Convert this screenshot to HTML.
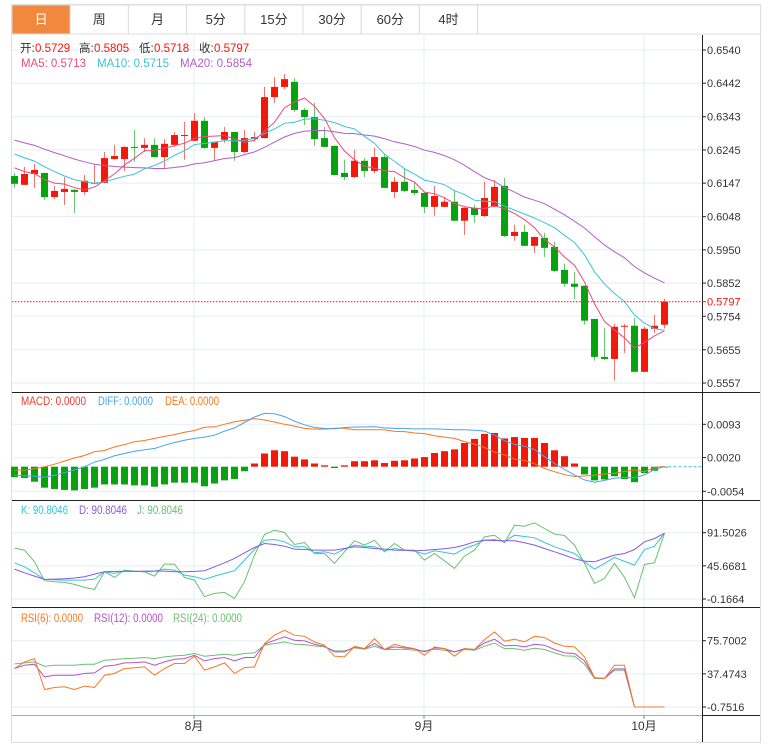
<!DOCTYPE html>
<html><head><meta charset="utf-8"><style>
html,body{margin:0;padding:0;background:#fff;width:771px;height:751px;overflow:hidden}
svg{display:block}
text{font-family:"Liberation Sans","Noto Sans CJK SC",sans-serif}
</style></head><body>
<svg id="chart" width="771" height="751" viewBox="0 0 771 751" xmlns="http://www.w3.org/2000/svg">
<rect x="11.5" y="4.5" width="749" height="738" fill="#fff" stroke="#dcdcdc"/>
<g id="tabs"></g>
<g id="grid"></g>
<g id="marks"></g>
<g id="axes"></g>
<g id="legend"></g>
</svg>
<script>
const openP=[0.6168,0.6142,0.6174,0.6177,0.6106,0.6121,0.6127,0.6121,0.6145,0.6148,0.6218,0.6218,0.6254,0.6251,0.6260,0.6224,0.6260,0.6286,0.6272,0.6331,0.6251,0.6275,0.6298,0.6239,0.6277,0.6280,0.6401,0.6431,0.6446,0.6363,0.6342,0.6280,0.6257,0.6177,0.6165,0.6213,0.6183,0.6224,0.6121,0.6151,0.6127,0.6118,0.6077,0.6077,0.6092,0.6036,0.6074,0.6050,0.6077,0.6139,0.5991,0.6003,0.5962,0.5985,0.5959,0.5891,0.5850,0.5844,0.5746,0.5634,0.5628,0.5723,0.5726,0.5590,0.5717,0.5729];
const closeP=[0.6145,0.6174,0.6186,0.6106,0.6124,0.6130,0.6121,0.6154,0.6148,0.6221,0.6227,0.6254,0.6251,0.6260,0.6224,0.6263,0.6289,0.6289,0.6331,0.6251,0.6269,0.6298,0.6239,0.6280,0.6283,0.6401,0.6431,0.6454,0.6363,0.6342,0.6277,0.6254,0.6171,0.6165,0.6213,0.6183,0.6224,0.6133,0.6151,0.6124,0.6118,0.6077,0.6109,0.6092,0.6036,0.6074,0.6053,0.6103,0.6136,0.5991,0.6003,0.5962,0.5988,0.5956,0.5888,0.5850,0.5841,0.5741,0.5634,0.5628,0.5723,0.5726,0.5590,0.5717,0.5726,0.5797];
const highP=[0.6177,0.6195,0.6204,0.6178,0.6139,0.6165,0.6130,0.6171,0.6201,0.6239,0.6260,0.6255,0.6304,0.6280,0.6280,0.6277,0.6298,0.6328,0.6354,0.6342,0.6270,0.6313,0.6299,0.6304,0.6298,0.6431,0.6460,0.6469,0.6457,0.6369,0.6384,0.6313,0.6258,0.6216,0.6245,0.6221,0.6251,0.6233,0.6165,0.6192,0.6151,0.6119,0.6139,0.6103,0.6127,0.6075,0.6083,0.6151,0.6156,0.6162,0.6024,0.6024,0.5989,0.6000,0.5974,0.5909,0.5885,0.5845,0.5747,0.5720,0.5732,0.5732,0.5749,0.5723,0.5758,0.5805];
const lowP=[0.6133,0.6141,0.6133,0.6097,0.6100,0.6083,0.6059,0.6112,0.6144,0.6147,0.6217,0.6183,0.6210,0.6239,0.6223,0.6192,0.6254,0.6216,0.6271,0.6248,0.6216,0.6266,0.6213,0.6236,0.6269,0.6279,0.6384,0.6425,0.6357,0.6319,0.6257,0.6253,0.6170,0.6156,0.6162,0.6164,0.6177,0.6132,0.6103,0.6120,0.6112,0.6059,0.6050,0.6076,0.6035,0.5994,0.6030,0.6047,0.6076,0.5988,0.5977,0.5961,0.5941,0.5929,0.5885,0.5841,0.5805,0.5729,0.5623,0.5625,0.5564,0.5646,0.5589,0.5589,0.5705,0.5718];
const priorCloses=[0.6340,0.6335,0.6330,0.6325,0.6320,0.6315,0.6310,0.6300,0.6290,0.6285,0.6290,0.6280,0.6275,0.6265,0.6260,0.6230,0.6215,0.6195,0.6176];
const diffVals=[-0.0019,-0.0020,-0.0021,-0.0023,-0.0019,-0.0013,-0.0007,0.0000,0.0010,0.0016,0.0024,0.0029,0.0034,0.0037,0.0040,0.0047,0.0053,0.0058,0.0062,0.0065,0.0069,0.0078,0.0085,0.0097,0.0109,0.0117,0.0116,0.0110,0.0100,0.0092,0.0086,0.0084,0.0083,0.0086,0.0087,0.0087,0.0088,0.0085,0.0084,0.0084,0.0083,0.0083,0.0083,0.0082,0.0081,0.0081,0.0080,0.0078,0.0069,0.0057,0.0049,0.0045,0.0038,0.0022,0.0007,-0.0006,-0.0018,-0.0029,-0.0034,-0.0030,-0.0025,-0.0024,-0.0024,-0.0018,-0.0006,0.0000];
const macdBars=[-0.0023,-0.0025,-0.0033,-0.0046,-0.0049,-0.0051,-0.0052,-0.0049,-0.0046,-0.0039,-0.0039,-0.0039,-0.0041,-0.0041,-0.0044,-0.0039,-0.0035,-0.0035,-0.0035,-0.0043,-0.0037,-0.0030,-0.0027,-0.0010,0.0007,0.0029,0.0036,0.0034,0.0022,0.0016,0.0007,0.0003,-0.0003,0.0003,0.0012,0.0012,0.0014,0.0008,0.0013,0.0014,0.0018,0.0021,0.0030,0.0034,0.0038,0.0052,0.0061,0.0072,0.0074,0.0062,0.0065,0.0063,0.0063,0.0052,0.0036,0.0023,0.0007,-0.0017,-0.0030,-0.0028,-0.0021,-0.0027,-0.0034,-0.0014,-0.0009,-0.0001];
const kVals=[49.9,44.4,36.1,26.9,26.5,26.0,26.0,26.0,27.4,37.5,35.2,38.9,38.0,37.5,38.4,41.2,39.8,32.9,30.6,26.9,31.5,35.2,38.9,53.6,68.3,81.2,82.1,78.9,72.0,72.0,63.7,65.1,61.9,68.8,74.3,72.9,72.0,66.5,69.7,67.4,66.0,61.9,66.5,64.2,61.9,69.7,74.3,81.2,82.1,78.9,88.1,86.3,84.4,78.0,72.0,67.4,62.8,51.3,41.2,49.0,57.3,51.8,46.7,68.3,72.9,90.8];
const dVals=[41.2,36.1,31.5,26.9,27.4,27.8,28.8,30.6,34.3,37.5,38.0,38.0,38.0,38.4,38.4,38.4,37.5,37.5,38.0,38.9,44.4,49.9,55.9,63.7,71.1,76.6,75.2,72.9,68.8,68.3,67.4,67.4,67.4,69.7,72.0,71.1,69.7,68.8,67.4,67.0,66.5,67.0,68.3,69.2,71.1,74.3,78.9,81.2,80.7,80.3,80.3,77.5,74.3,69.7,65.1,60.5,55.4,52.2,51.3,55.9,60.5,62.8,68.3,78.9,83.5,90.8];
const jVals=[70.2,67.4,51.3,25.1,23.7,22.8,20.0,15.9,13.1,37.5,29.7,39.8,38.4,37.5,31.5,48.1,48.1,29.7,26.0,3.0,7.6,9.0,0.7,23.7,60.5,89.0,95.0,91.8,75.2,78.0,62.8,62.8,49.0,65.1,80.3,74.3,81.2,65.1,76.6,67.4,67.4,53.6,62.8,52.7,42.1,59.1,67.4,85.8,88.1,77.5,101.9,100.5,105.1,97.3,89.5,87.6,74.3,49.0,21.4,28.3,49.0,29.7,1.6,47.6,49.9,90.8];
const rsi6=[43.6,51.3,55.1,19.4,21.7,22.5,19.4,23.3,21.7,35.9,37.9,43.6,44.4,45.5,35.9,43.6,49.4,49.4,57.8,41.7,45.5,50.1,37.9,44.7,45.5,72.4,82.0,87.7,82.0,80.8,74.3,70.5,57.8,57.0,69.3,66.6,78.1,65.5,71.6,68.5,66.6,58.9,68.5,66.6,57.8,66.6,65.5,77.0,85.8,75.1,77.4,74.3,80.8,79.3,73.1,69.3,68.5,57.0,33.2,32.1,47.4,47.4,-0.75,-0.75,-0.75,-0.75];
const rsi12=[43.6,47.4,48.6,34.0,35.9,35.9,35.9,37.9,38.6,46.3,47.4,50.1,50.5,51.3,47.4,51.3,54.3,55.1,58.9,52.4,55.1,56.3,52.4,56.3,56.3,71.6,76.2,80.1,76.2,75.5,71.6,69.3,62.8,62.8,68.5,66.6,72.4,65.5,68.5,67.4,66.2,62.8,67.4,66.6,62.8,66.6,65.5,73.1,77.4,69.7,70.5,68.5,71.6,70.5,65.5,61.6,60.9,52.4,32.9,32.1,43.2,43.2,-0.75,-0.75,-0.75,-0.75];
const rsi24=[49.0,50.1,51.3,46.3,47.4,47.4,47.4,48.6,48.6,53.2,54.0,55.1,55.5,56.3,55.1,57.0,58.2,58.9,60.9,57.8,58.9,60.1,58.9,60.9,61.6,70.5,72.4,74.3,71.6,71.2,69.7,68.5,63.9,63.9,67.4,65.9,69.3,65.5,65.5,65.9,64.7,63.9,65.9,64.7,62.8,65.5,64.7,69.3,73.1,66.6,66.6,64.7,67.0,65.5,61.6,58.2,57.8,48.6,32.1,32.1,41.7,41.7,-0.75,-0.75,-0.75,-0.75];
const priceTicks=["0.6540","0.6442","0.6343","0.6245","0.6147","0.6048","0.5950","0.5852","0.5754","0.5655","0.5557"];
const macdTicks=["0.0093","0.0020","-0.0054"];
const kdjTicks=["91.5026","45.6681","-0.1664"];
const rsiTicks=["75.7002","37.4743","-0.7516"];
const monthLabels=["8月","9月","10月"];
const monthIndex=[18,41,63];
const tabLabels=["日","周","月","5分","15分","30分","60分","4时"];

const NS="http://www.w3.org/2000/svg";
function mk(tag,attrs,parent,txt){const e=document.createElementNS(NS,tag);for(const k in attrs)e.setAttribute(k,attrs[k]);if(txt!==undefined)e.textContent=txt;parent.appendChild(e);return e;}
const gTabs=document.getElementById('tabs'),gGrid=document.getElementById('grid'),gMarks=document.getElementById('marks'),gAxes=document.getElementById('axes'),gLeg=document.getElementById('legend');
const X0=12,X1=702;
function xOf(i){return 14.5+10*i;}
function yPrice(p){return 50+(0.6540-p)/(0.6540-0.5557)*333;}
function yMacd(v){return 424.3+(0.0093-v)/(0.0093+0.0054)*67;}
function yKdj(v){return 532.7+(91.5026-v)/(91.5026+0.1664)*66.3;}
function yRsi(v){return 640.7+(75.7002-v)/(75.7002+0.7516)*66.3;}
const RED="#f2180a",GREEN="#07a30e";

tabLabels.forEach((t,i)=>{
  const x=12+i*58.2,w=58.2;
  const r=mk('rect',{x:x,y:5,width:w,height:29,fill:i===0?'#f0893d':'#fff',stroke:'#dcdcdc'},gTabs);
  
  
  const tx=mk('text',{x:x+w/2,y:24,'text-anchor':'middle','font-size':'13',fill:i===0?'#fff':'#333'},gTabs,t);
  
  
});
mk('rect',{x:477.6,y:5,width:283,height:29,fill:'#fff',stroke:'#dcdcdc'},gTabs);

function hgrid(y){mk('line',{x1:X0,x2:X1,y1:y,y2:y,stroke:'#e6eef5','stroke-width':1},gGrid);}
priceTicks.forEach(t=>hgrid(yPrice(parseFloat(t))));
macdTicks.forEach(t=>hgrid(yMacd(parseFloat(t))));
kdjTicks.forEach(t=>hgrid(yKdj(parseFloat(t))));
rsiTicks.forEach(t=>hgrid(yRsi(parseFloat(t))));
monthIndex.forEach(i=>{mk('line',{x1:xOf(i)-0.5,x2:xOf(i)-0.5,y1:35,y2:716,stroke:'#e6eef5'},gGrid);});

for(let i=0;i<openP.length;i++){
  const up=closeP[i]>=openP[i],c=up?RED:GREEN,x=xOf(i);
  const w=mk('line',{x1:x,x2:x,y1:yPrice(highP[i]),y2:yPrice(lowP[i]),stroke:c,'stroke-opacity':0.6,'stroke-width':1},gMarks);
  
  
  const t=yPrice(Math.max(openP[i],closeP[i])),b=yPrice(Math.min(openP[i],closeP[i]));
  const r=mk('rect',{x:x-3.5,y:t,width:7,height:Math.max(1,b-t),fill:c},gMarks);
  
  
}
const allC=priorCloses.concat(closeP);
function ma(n){const out=[];for(let i=0;i<closeP.length;i++){let s=0;for(let k=0;k<n;k++)s+=allC[i+priorCloses.length-k];out.push(s/n);}return out;}
function poly(vals,yf,color,name,w){
  const pts=vals.map((v,i)=>xOf(i).toFixed(1)+','+yf(v).toFixed(1)).join(' ');
  const p=mk('polyline',{points:pts,fill:'none',stroke:color,'stroke-width':w||1},gMarks);
  
  
}
poly(ma(20),yPrice,'#b45ccc','ma20-line');
poly(ma(10),yPrice,'#3cc4d9','ma10-line');
poly(ma(5),yPrice,'#ee4a7c','ma5-line');
const lastY=yPrice(closeP[closeP.length-1]);
const lp=mk('line',{x1:X0,x2:X1,y1:lastY,y2:lastY,stroke:RED,'stroke-dasharray':'1.5,1.5','stroke-width':1},gMarks);



for(let i=0;i<macdBars.length;i++){
  const v=macdBars[i],y0=yMacd(0),y1=yMacd(v);
  const r=mk('rect',{x:xOf(i)-3.5,y:Math.min(y0,y1),width:7,height:Math.max(0.8,Math.abs(y1-y0)),fill:v>=0?RED:GREEN},gMarks);
  
  
}
const deaVals=diffVals.map((d,i)=>d-macdBars[i]/2);
poly(deaVals,yMacd,'#f5781e','dea-line');
poly(diffVals,yMacd,'#4aa3ef','diff-line');
mk('line',{x1:xOf(65)+4,x2:X1,y1:yMacd(0),y2:yMacd(0),stroke:'#3cc4d9','stroke-dasharray':'3,2'},gMarks);

poly(jVals,yKdj,'#6cc070','kdj-j-line');
poly(kVals,yKdj,'#35c6d8','kdj-k-line');
poly(dVals,yKdj,'#8a5ad8','kdj-d-line');
poly(rsi24,yRsi,'#6cc070','rsi24-line');
poly(rsi12,yRsi,'#b454cc','rsi12-line');
poly(rsi6,yRsi,'#f57a20','rsi6-line');

[392.5,500.5,607.5].forEach(y=>mk('line',{x1:X0,x2:760,y1:y,y2:y,stroke:'#222','stroke-width':1},gAxes));
mk('line',{x1:X0,x2:X1,y1:715.5,y2:715.5,stroke:'#aaa'},gAxes);
mk('line',{x1:X1,x2:760,y1:715.5,y2:715.5,stroke:'#222'},gAxes);
mk('line',{x1:702.5,x2:702.5,y1:35,y2:742,stroke:'#222'},gAxes);
function ytick(lbl,y,color){
  mk('line',{x1:702,x2:706,y1:y,y2:y,stroke:color||'#222'},gAxes);
  const t=mk('text',{x:707,y:y+4,'font-size':'11',fill:color||'#333'},gAxes,lbl);
  
  
}
priceTicks.forEach(t=>ytick(t,yPrice(parseFloat(t))));
macdTicks.forEach(t=>ytick(t,yMacd(parseFloat(t))));
kdjTicks.forEach(t=>ytick(t,yKdj(parseFloat(t))));
rsiTicks.forEach(t=>ytick(t,yRsi(parseFloat(t))));
ytick(closeP[closeP.length-1].toFixed(4),lastY,RED);
monthLabels.forEach((m,k)=>{
  const x=xOf(monthIndex[k])-0.5;
  mk('line',{x1:x,x2:x,y1:715,y2:719,stroke:'#888'},gAxes);
  const t=mk('text',{x:x,y:730,'font-size':'12','text-anchor':'middle',fill:'#333'},gAxes,m);
  
  
});

function leg(items,y){items.forEach(it=>{
  const a={x:it[0],y:y,'font-size':'11.5',fill:it[2]};
  if(it[3]){a.textLength=it[3];a.lengthAdjust='spacingAndGlyphs';}
  const t=mk('text',a,gLeg,it[1]);
  
  
});}
const li=closeP.length-1;
leg([[20,'开:','#333'],[35,openP[li].toFixed(4),RED],[79,'高:','#333'],[94,highP[li].toFixed(4),RED],[139,'低:','#333'],[154,lowP[li].toFixed(4),RED],[199,'收:','#333'],[214,closeP[li].toFixed(4),RED]],52);
leg([[21,'MA5: 0.5713','#ee4a7c',65],[97,'MA10: 0.5715','#3cc4d9',72],[180,'MA20: 0.5854','#b45ccc',72]],67);
leg([[21,'MACD: 0.0000','#f23a2a',65],[98,'DIFF: 0.0000','#4aa3ef',55],[165,'DEA: 0.0000','#f5781e',54]],405);
leg([[21,'K: 90.8046','#35c6d8',47],[79,'D: 90.8046','#8a5ad8',48],[137,'J: 90.8046','#6cc070',46]],514);
leg([[21,'RSI(6): 0.0000','#f57a20',62],[94,'RSI(12): 0.0000','#b454cc',69],[173,'RSI(24): 0.0000','#6cc070',69]],622);
</script>
</body></html>
